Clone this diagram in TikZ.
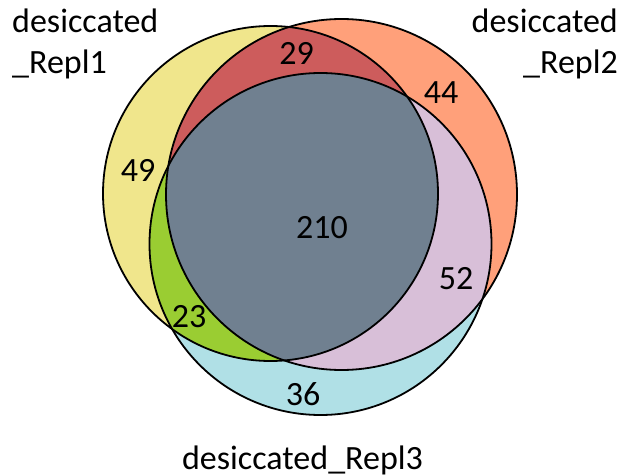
\documentclass[tikz,border=0pt]{standalone}
\usepackage{fontspec}
\setmainfont{Carlito}
\definecolor{onlyA}{HTML}{F0E68C}
\definecolor{onlyB}{HTML}{FFA07A}
\definecolor{onlyC}{HTML}{B0E0E6}
\definecolor{interAB}{HTML}{CD5C5C}
\definecolor{interAC}{HTML}{9ACD32}
\definecolor{interBC}{HTML}{D8BFD8}
\definecolor{interABC}{HTML}{708090}
\tikzset{
  vnum/.style={inner sep=0pt, font=\fontsize{34}{40}\selectfont},
  vlabel/.style={inner sep=0pt, font=\fontsize{34}{40}\selectfont},
  vline/.style={draw=black, line width=1.8pt}
}
\begin{document}
\begin{tikzpicture}[x=1pt,y=-1pt]
\useasboundingbox (0,0) rectangle (619,476);
\fill[white] (0,0) rectangle (619,476);
\def\cA{(270.5,193.5) circle (167.5pt)}
\def\cB{(341.5,194.5) circle (175.5pt)}
\def\cC{(320.5,244) circle (171pt)}
% single regions
\fill[onlyA] \cA;
\fill[onlyB] \cB;
\fill[onlyC] \cC;
% pairwise
\begin{scope}\clip \cA; \fill[interAB] \cB; \end{scope}
\begin{scope}\clip \cA; \fill[interAC] \cC; \end{scope}
\begin{scope}\clip \cB; \fill[interBC] \cC; \end{scope}
% triple
\begin{scope}\clip \cA; \clip \cB; \fill[interABC] \cC; \end{scope}
% outlines
\draw[vline] \cA;
\draw[vline] \cB;
\draw[vline] \cC;
% counts
\node[vnum] (n29) at (296.5,53) {29};
\node[vnum] (n44) at (441,93) {44};
\node[vnum] (n49) at (138,170) {49};
\node[vnum] (n210) at (322,228) {210};
\node[vnum] (n52) at (456,279) {52};
\node[vnum] (n23) at (189,317) {23};
\node[vnum] (n36) at (303,394) {36};
% labels
\node[vlabel, anchor=base west] (l1a) at (12,33) {desiccated};
\node[vlabel, anchor=base west] (l1b) at (12,74) {\_Repl1};
\node[vlabel, anchor=base east] (l2a) at (618,33) {desiccated};
\node[vlabel, anchor=base east] (l2b) at (618,74) {\_Repl2};
\node[vlabel, anchor=base] (l3) at (302.5,469) {desiccated\_Repl3};
\end{tikzpicture}
\end{document}
